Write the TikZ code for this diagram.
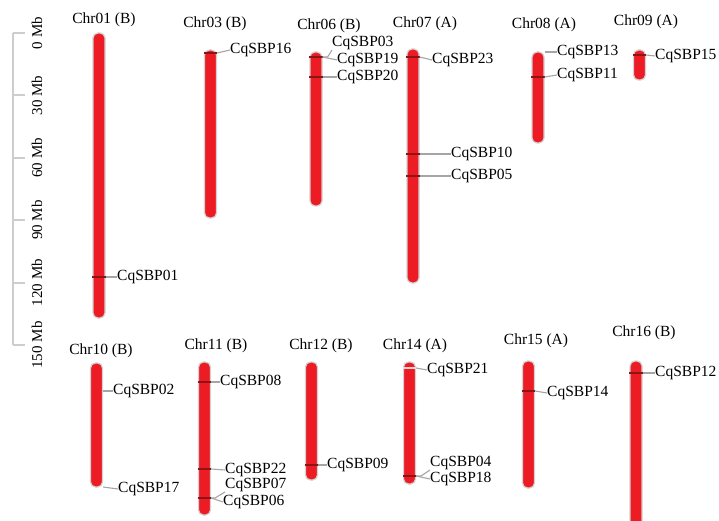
\documentclass[tikz,border=0pt]{standalone}
\usepackage{fontspec}
\setmainfont{Liberation Serif}
\definecolor{chrred}{RGB}{237,28,36}
\definecolor{markdark}{RGB}{140,20,22}
\definecolor{conngray}{RGB}{165,165,165}
\definecolor{scalegray}{RGB}{205,205,205}
\begin{document}
\begin{tikzpicture}[x=1pt,y=-1pt,
  chrom/.style={draw=black!18, line width=1.2pt, fill=chrred, rounded corners=5pt, minimum width=12pt, inner sep=0pt},
  gene/.style={anchor=west, inner sep=0pt, font=\fontsize{15.5}{16}\selectfont},
  chrlab/.style={inner sep=0pt, font=\fontsize{15.5}{16}\selectfont},
  scalelab/.style={inner sep=0pt, rotate=90, font=\fontsize{15}{16}\selectfont},
  mk/.style={draw=markdark, line width=1.3pt},
  mkw/.style={draw=white!80!chrred, line width=1.2pt},
  conn/.style={draw=conngray, line width=1.1pt},
  sbar/.style={draw=scalegray, line width=2pt}]
\useasboundingbox (0,0) rectangle (719,521);
\clip (0,0) rectangle (719,521);
% scale bar
\coordinate (s0) at (13,33);
\coordinate (s150) at (13,345);
\draw[sbar] (s0) -- (s150);
\foreach \v/\t in {0/0 Mb,30/30 Mb,60/60 Mb,90/90 Mb,120/120 Mb,150/150 Mb}{
  \coordinate (t\v) at (13,{33+\v*2.08});
  \draw[sbar] (t\v) -- ++(12,0);
  \node[scalelab] (l\v) at (37,{33+\v*2.08}) {\t};
}
% chromosomes top row
\node[chrom, minimum height=285pt] (c01) at (99,175.5) {};
\node[chrom, minimum height=168pt] (c03) at (210.5,134) {};
\node[chrom, minimum height=154pt] (c06) at (316,129) {};
\node[chrom, minimum height=234pt] (c07) at (413,166) {};
\node[chrom, minimum height=91pt] (c08) at (538,97.5) {};
\node[chrom, minimum height=30pt] (c09) at (639.5,65) {};
% bottom row
\node[chrom, minimum height=124pt] (c10) at (96.5,425) {};
\node[chrom, minimum height=153pt] (c11) at (204.5,438.5) {};
\node[chrom, minimum height=118pt] (c12) at (311.5,421) {};
\node[chrom, minimum height=122pt] (c14) at (409.5,423) {};
\node[chrom, minimum height=127pt] (c15) at (528.5,424.5) {};
\node[chrom, minimum height=174pt] (c16) at (636,448) {};
% chromosome names
\node[chrlab] (n01) at (104,20) {Chr01 (B)};
\node[chrlab] (n03) at (215,24) {Chr03 (B)};
\node[chrlab] (n06) at (329,26) {Chr06 (B)};
\node[chrlab] (n07) at (425,24) {Chr07 (A)};
\node[chrlab] (n08) at (544,25) {Chr08 (A)};
\node[chrlab] (n09) at (646,22) {Chr09 (A)};
\node[chrlab] (n10) at (101,351) {Chr10 (B)};
\node[chrlab] (n11) at (216,346) {Chr11 (B)};
\node[chrlab] (n12) at (321,346) {Chr12 (B)};
\node[chrlab] (n14) at (415,346) {Chr14 (A)};
\node[chrlab] (n15) at (536,341) {Chr15 (A)};
\node[chrlab] (n16) at (644,333) {Chr16 (B)};
% markers
\foreach \c/\y in {c01/277,c03/53,c06/57,c06/77,c07/57,c07/154,c07/176,c08/77,c09/55,c11/382,c11/469,c11/498,c12/465,c14/476,c15/391,c16/373}{
  \draw[mk] (\c.west |- 0,\y) -- (\c.east |- 0,\y);
}
\draw[mkw] (c14.west |- 0,368) -- (c14.east |- 0,368);
% gene labels
\node[gene] (g01) at (117,277) {CqSBP01};
\node[gene] (g16) at (230,50) {CqSBP16};
\node[gene] (g03) at (332,43) {CqSBP03};
\node[gene] (g19) at (337,60) {CqSBP19};
\node[gene] (g20) at (337,77) {CqSBP20};
\node[gene] (g23) at (432,60) {CqSBP23};
\node[gene] (g10) at (451,154) {CqSBP10};
\node[gene] (g05) at (451,176) {CqSBP05};
\node[gene] (g13) at (557,52) {CqSBP13};
\node[gene] (g11) at (557,75) {CqSBP11};
\node[gene] (g15) at (655,56) {CqSBP15};
\node[gene] (g02) at (113,391) {CqSBP02};
\node[gene] (g17) at (118,489) {CqSBP17};
\node[gene] (g08) at (220,382) {CqSBP08};
\node[gene] (g22) at (225,470) {CqSBP22};
\node[gene] (g07) at (225,485) {CqSBP07};
\node[gene] (g06) at (223,502) {CqSBP06};
\node[gene] (g09) at (327,465) {CqSBP09};
\node[gene] (g21) at (427,370) {CqSBP21};
\node[gene] (g04) at (430,463) {CqSBP04};
\node[gene] (g18) at (430,479) {CqSBP18};
\node[gene] (g14) at (547,393) {CqSBP14};
\node[gene] (g12) at (655,373) {CqSBP12};
% connectors
\draw[conn] (c01.east |- 0,277) -- (g01.west);
\draw[conn] (c03.east |- 0,53) -- (g16.west);
\draw[conn] (c06.east |- 0,57) -- ++(5,0) -- (g03.south west);
\draw[conn] (c06.east |- 0,57) -- (g19.west);
\draw[conn] (c06.east |- 0,77) -- (g20.west);
\draw[conn] (c07.east |- 0,57) -- (g23.west);
\draw[conn] (c07.east |- 0,154) -- (g10.west);
\draw[conn] (c07.east |- 0,176) -- (g05.west);
\draw[conn] (c08.east |- 0,52) -- (g13.west);
\draw[conn] (c08.east |- 0,77) -- (g11.west);
\draw[conn] (c09.east |- 0,55) -- (g15.west);
\draw[conn] (c10.east |- 0,391) -- (g02.west);
\draw[conn] (c10.east |- 0,487) -- (g17.west);
\draw[conn] (c11.east |- 0,382) -- (g08.west);
\draw[conn] (c11.east |- 0,469) -- (g22.west);
\draw[conn] (c11.east |- 0,498) -- ++(4,0) -- (g07.south west);
\draw[conn] (c11.east |- 0,498) -- (g06.west);
\draw[conn] (c12.east |- 0,465) -- (g09.west);
\draw[conn] (c14.east |- 0,368) -- (g21.west);
\draw[conn] (c14.east |- 0,476) -- ++(5,0) -- (g04.south west);
\draw[conn] (c14.east |- 0,476) -- (g18.west);
\draw[conn] (c15.east |- 0,391) -- (g14.west);
\draw[conn] (c16.east |- 0,373) -- (g12.west);
\end{tikzpicture}
\end{document}
